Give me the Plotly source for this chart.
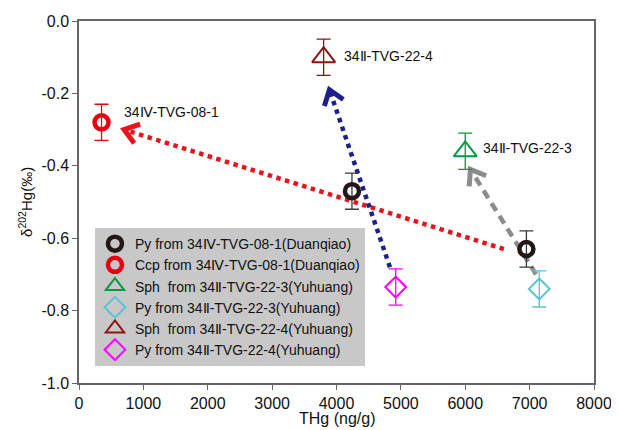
import math
import plotly.graph_objects as go

# ---------------- data ----------------
py_0801_x = [4240, 6950]
py_0801_y = [-0.47, -0.63]
py_0801_err = [0.05, 0.05]

ccp_0801_x = [350]
ccp_0801_y = [-0.28]
ccp_0801_err = [0.05]

sph_223_x = [6000]
sph_223_y = [-0.36]
sph_223_err = [0.05]

py_223_x = [7150]
py_223_y = [-0.74]
py_223_err = [0.05]

sph_224_x = [3800]
sph_224_y = [-0.10]
sph_224_err = [0.05]

py_224_x = [4920]
py_224_y = [-0.735]
py_224_err = [0.05]

# arrows: (tail x, tail y, tip x, tip y)
arrow_red = [6600, -0.63, 700, -0.30]
arrow_blue = [4830, -0.68, 3890, -0.19]
arrow_gray = [7100, -0.70, 6080, -0.41]

x_ticks = [0, 1000, 2000, 3000, 4000, 5000, 6000, 7000, 8000]
y_ticks = [0.0, -0.2, -0.4, -0.6, -0.8, -1.0]

x_title = "THg (ng/g)"
y_title = "δ<sup>202</sup>Hg(‰)"

# ---------------- layout constants ----------------
# page body has an 8px margin, so the figure is drawn 8px in from the top-left
W, H = 611, 422
ML, MR, MT, MB = 71, 25, 13, 47
XR = [0, 8000]
YR = [-1.0, 0.0]
pw = W - ML - MR
ph = H - MT - MB
sx = pw / (XR[1] - XR[0])   # px per x unit
sy = ph / (YR[1] - YR[0])   # px per y unit

FONT = "Liberation Sans, Arial, sans-serif"

fig = go.Figure()


def add_arrow(a, color, dash, width=4.5):
    x0, y0, x1, y1 = a
    fig.add_trace(go.Scatter(x=[x0, x1], y=[y0, y1], mode="lines",
                             line=dict(color=color, width=width, dash=dash),
                             showlegend=False, hoverinfo="skip"))
    # chevron head computed in pixel space
    dx = (x0 - x1) * sx
    dy = (y0 - y1) * sy
    n = math.hypot(dx, dy)
    ux, uy = dx / n, dy / n
    L = 17
    ang = math.radians(36)
    pts = []
    for s in (1, -1):
        c, si = math.cos(s * ang), math.sin(s * ang)
        rx = ux * c - uy * si
        ry = ux * si + uy * c
        pts.append((x1 + rx * L / sx, y1 + ry * L / sy))
    fig.add_trace(go.Scatter(x=[pts[0][0], x1, pts[1][0]],
                             y=[pts[0][1], y1, pts[1][1]], mode="lines",
                             line=dict(color=color, width=5),
                             showlegend=False, hoverinfo="skip"))


add_arrow(arrow_red, "#e8141c", "dot")
add_arrow(arrow_blue, "#1d2088", "dot")
add_arrow(arrow_gray, "#8c8c8c", "9px,6px")


def add_series(x, y, err, name, symbol, color, size, lw, ecolor):
    fig.add_trace(go.Scatter(
        x=x, y=y, mode="markers", name=name,
        marker=dict(symbol=symbol, size=size, color=color,
                    line=dict(color=color, width=lw)),
        error_y=dict(type="data", array=err, visible=True, color=ecolor,
                     thickness=1.3, width=7),
    ))


add_series(py_0801_x, py_0801_y, py_0801_err,
           "Py from 34Ⅳ-TVG-08-1(Duanqiao)", "circle-open", "#231815", 14, 4.5, "#3a3a3a")
add_series(ccp_0801_x, ccp_0801_y, ccp_0801_err,
           "Ccp from 34Ⅳ-TVG-08-1(Duanqiao)", "circle-open", "#e60012", 14, 4.5, "#e60012")
add_series(sph_223_x, sph_223_y, sph_223_err,
           "Sph\u00a0 from 34Ⅱ-TVG-22-3(Yuhuang)", "triangle-up-open", "#009944", 20, 2, "#009944")
add_series(py_223_x, py_223_y, py_223_err,
           "Py from 34Ⅱ-TVG-22-3(Yuhuang)", "diamond-open", "#5bc2d3", 16, 2, "#5bc2d3")
add_series(sph_224_x, sph_224_y, sph_224_err,
           "Sph\u00a0 from 34Ⅱ-TVG-22-4(Yuhuang)", "triangle-up-open", "#8b1414", 20, 2, "#8b1414")
add_series(py_224_x, py_224_y, py_224_err,
           "Py from 34Ⅱ-TVG-22-4(Yuhuang)", "diamond-open", "#ff00ff", 16, 2, "#ff00ff")

labels = [
    ("34Ⅳ-TVG-08-1", ccp_0801_x[0], ccp_0801_y[0], 20, 10),
    ("34Ⅱ-TVG-22-4", sph_224_x[0], sph_224_y[0], 18, 1),
    ("34Ⅱ-TVG-22-3", sph_223_x[0], sph_223_y[0], 16, 3),
]
for t, x, y, xs, ys in labels:
    fig.add_annotation(x=x, y=y, text=t, showarrow=False, xanchor="left",
                       yanchor="middle", xshift=xs, yshift=ys,
                       font=dict(family=FONT, size=14, color="#111"))

# axis titles placed as paper-referenced text for exact positioning
fig.add_annotation(xref="paper", yref="paper", x=0.5, y=-0.098,
                   xanchor="center", yanchor="middle", showarrow=False,
                   text=x_title, font=dict(family=FONT, size=16, color="#111"))
fig.add_annotation(xref="paper", yref="paper", x=-0.105, y=0.5,
                   xanchor="center", yanchor="middle", showarrow=False,
                   textangle=-90, text=y_title,
                   font=dict(family=FONT, size=15, color="#111"))

axis_common = dict(showgrid=False, zeroline=False, showline=True,
                   linecolor="#666", linewidth=1.5, mirror=True,
                   ticks="outside", ticklen=5, tickcolor="#666", tickwidth=1.3,
                   automargin=False,
                   tickfont=dict(family=FONT, size=16, color="#111"))

fig.update_layout(
    width=W, height=H,
    margin=dict(l=ML, r=MR, t=MT, b=MB, autoexpand=False),
    paper_bgcolor="white", plot_bgcolor="white",
    font=dict(family=FONT, color="#111"),
    xaxis=dict(range=XR, tickvals=x_ticks,
               ticktext=[str(v) for v in x_ticks],
               **axis_common),
    yaxis=dict(range=YR, tickvals=y_ticks,
               ticktext=[f"{v:.1f}" for v in y_ticks],
               **axis_common),
    legend=dict(x=0.031, y=0.428, xanchor="left", yanchor="top",
                bgcolor="#c8c8c8", font=dict(family=FONT, size=14, color="#111"),
                tracegroupgap=0),
    showlegend=True,
)

fig.write_html("out.html")
